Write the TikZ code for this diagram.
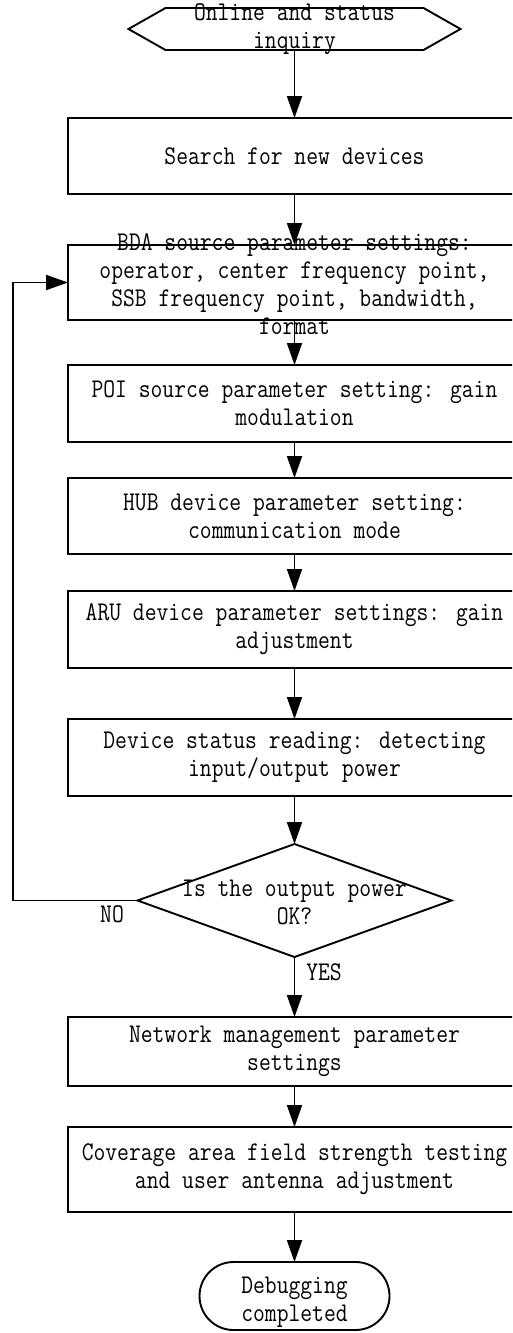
\documentclass[tikz,border=0pt]{standalone}
\usepackage{fontspec}
\newfontfamily\dfont{Latin Modern Mono}[FakeStretch=0.85]
\usetikzlibrary{arrows.meta,shapes.geometric,shapes.misc}
\begin{document}
\begin{tikzpicture}[x=1pt,y=-1pt,
  lw/.style={line width=1.9pt},
  txt/.style={font=\dfont\fontsize{27}{28}\selectfont,align=center,inner sep=0pt,outer sep=0pt},
  stepbox/.style={draw,lw,rectangle,minimum width=453pt,inner sep=0pt,outer sep=0pt,txt},
  arr/.style={lw,-{Triangle[length=22pt,width=15pt]}},
]
\useasboundingbox (0,0) rectangle (512,1333);
\clip (0,0) rectangle (512,1333);

% start hexagon
\node[minimum width=258pt,minimum height=42pt,inner sep=0pt,outer sep=0pt] (hex) at (294.5,29) {};
\draw[lw] ([xshift=-37pt]hex.west) -- (hex.north west) -- (hex.north east)
  -- ([xshift=37pt]hex.east) -- (hex.south east) -- (hex.south west) -- cycle;
\node[txt] (hextext) at (hex.center) {Online and status\\inquiry};

\node[stepbox,minimum height=76pt] (search) at (294.5,156) {Search for new devices};
\node[stepbox,minimum height=75pt] (bda) at (294.5,282.5) {};
\node[txt] (bdatext) at (294.5,284.5) {BDA source parameter settings:\\operator, center frequency point,\\SSB frequency point, bandwidth,\\format};
\node[stepbox,minimum height=77pt] (poi) at (294.5,403.5) {POI source parameter setting: gain\\modulation};
\node[stepbox,minimum height=76pt] (hub) at (294.5,516) {HUB device parameter setting:\\communication mode};
\node[stepbox,minimum height=77pt] (aru) at (294.5,629.5) {ARU device parameter settings: gain\\adjustment};
\node[stepbox,minimum height=77pt] (dev) at (294.5,757.5) {Device status reading: detecting\\input/output power};

\node[diamond,draw,lw,minimum width=314pt,minimum height=113pt,inner sep=0pt,outer sep=0pt,aspect=2.78] (dec) at (294.5,900.5) {};
\node[txt] (dectext) at (294.5,902) {Is the output power\\OK?};

\node[stepbox,minimum height=69pt] (net) at (294.5,1051.5) {Network management parameter\\settings};
\node[stepbox,minimum height=85pt] (cov) at (294.5,1169.5) {Coverage area field strength testing\\and user antenna adjustment};

\node[rounded rectangle,draw,lw,minimum width=190pt,minimum height=68pt,inner sep=0pt,outer sep=0pt] (term) at (294.5,1296) {};
\node[txt] (termtext) at (294.5,1302) {Debugging\\completed};

\coordinate (loopx) at (12.7,0);

\draw[arr] (hex.south) -- (search.north);
\draw[arr] (search.south) -- (bda.north);
\draw[arr] (bda.south) -- (poi.north);
\draw[arr] (poi.south) -- (hub.north);
\draw[arr] (hub.south) -- (aru.north);
\draw[arr] (aru.south) -- (dev.north);
\draw[arr] (dev.south) -- (dec.north);
\draw[arr] (dec.south) -- (net.north);
\draw[arr] (net.south) -- (cov.north);
\draw[arr] (cov.south) -- (term.north);
\draw[arr] (dec.west) -- (dec.west -| loopx) |- (bda.west);

\node[txt] (lno) at (112,914) {NO};
\node[txt] (lyes) at (324,972) {YES};
\end{tikzpicture}
\end{document}
